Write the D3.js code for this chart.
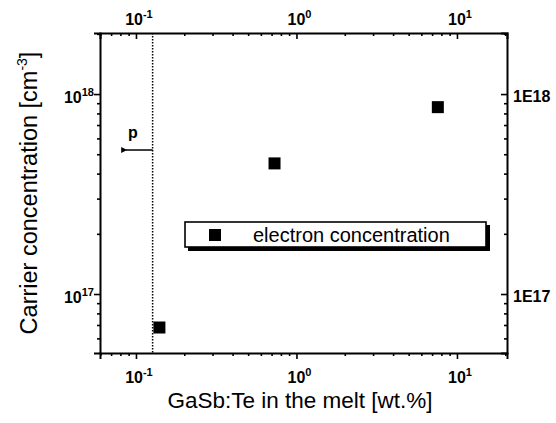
<!DOCTYPE html>
<html><head><meta charset="utf-8">
<script src="https://cdn.jsdelivr.net/npm/d3@7"></script>
<style>body{margin:0;background:#fff}svg{display:block}text{font-family:"Liberation Sans",Arial,sans-serif;fill:#000}</style>
</head><body>
<script>
const xValues = [0.14, 0.73, 7.6];
const yValues = [6.8e16, 4.5e17, 8.6e17];
const seriesName = "electron concentration";
const xTickExps = [-1, 0, 1];
const yTickExps = [17, 18];
const yRightLabels = ["1E17", "1E18"];
const boundaryX = 0.127;
const pArrow = {x0: 0.127, x1: 0.083, y: 5.25e17, label: "p"};

const W = 556, H = 423;
const m = {l: 100, r: 49, t: 33, b: 70};
const svg = d3.select("body").append("svg").attr("width", W).attr("height", H);
const x = d3.scaleLog().domain([0.0597, 20.5]).range([m.l, W - m.r]);
const y = d3.scaleLog().domain([5.07e16, 2.02e18]).range([H - m.b, m.t]);

const minorX = [], minorY = [];
for (let e = -2; e <= 1; e++) for (let k = 2; k <= 9; k++) { const v = k * 10 ** e; if (v >= x.domain()[0] && v <= x.domain()[1]) minorX.push(v); }
for (let e = 16; e <= 18; e++) for (let k = 2; k <= 9; k++) { const v = k * 10 ** e; if (v >= y.domain()[0] && v <= y.domain()[1]) minorY.push(v); }
const majX = xTickExps.map(e => 10 ** e), majY = yTickExps.map(e => 10 ** e);

const g = svg.append("g");
function axis(gen, ticks, size, transform) {
  const a = g.append("g").attr("transform", transform).call(gen.tickValues(ticks).tickSize(size).tickFormat(""));
  a.selectAll("path,line").attr("stroke", "#000").attr("stroke-width", 1.6);
  return a;
}
const bt = `translate(0,${H - m.b})`, tt = `translate(0,${m.t})`, lt = `translate(${m.l},0)`, rt = `translate(${W - m.r},0)`;
axis(d3.axisBottom(x), majX, 6, bt);
axis(d3.axisBottom(x), minorX, 3, bt).select(".domain").remove();
axis(d3.axisTop(x), majX, -6, tt);
axis(d3.axisTop(x), minorX, -3, tt).select(".domain").remove();
axis(d3.axisLeft(y), majY, 6, lt);
axis(d3.axisLeft(y), minorY, 3, lt).select(".domain").remove();
axis(d3.axisRight(y), majY, -6, rt);
axis(d3.axisRight(y), minorY, -3, rt).select(".domain").remove();
g.selectAll(".domain").attr("stroke-width", 2);

function powLabel(sel, base, exp, anchor) {
  const t = sel.append("text").attr("font-weight", "bold").attr("font-size", 16).attr("text-anchor", anchor);
  t.append("tspan").text(base);
  t.append("tspan").attr("font-size", 11).attr("dy", -7).text(exp);
  return t;
}
xTickExps.forEach(e => {
  powLabel(svg, "10", e, "middle").attr("x", x(10 ** e) + 3).attr("y", 383);
  powLabel(svg, "10", e, "middle").attr("x", x(10 ** e) + 3).attr("y", 25);
});
yTickExps.forEach((e, i) => {
  powLabel(svg, "10", e, "end").attr("x", 94).attr("y", y(10 ** e) + 9);
  svg.append("text").attr("font-weight", "bold").attr("font-size", 16).attr("x", 513).attr("y", y(10 ** e) + 8).text(yRightLabels[i]);
});

// axis titles
const yt = svg.append("text").attr("font-size", 23.5).attr("text-anchor", "middle")
  .attr("transform", `translate(37,${193}) rotate(-90)`);
yt.append("tspan").text("Carrier concentration [cm");
yt.append("tspan").attr("font-size", 14).attr("dy", -10).text("-3");
yt.append("tspan").attr("dy", 10).text("]");
svg.append("text").attr("font-size", 22.5).attr("text-anchor", "middle").attr("x", 300).attr("y", 408).text("GaSb:Te in the melt [wt.%]");

// dotted boundary
svg.append("line").attr("x1", x(boundaryX)).attr("x2", x(boundaryX)).attr("y1", m.t).attr("y2", H - m.b)
  .attr("stroke", "#000").attr("stroke-width", 1.5).attr("stroke-dasharray", "1.5,1.5");
// p arrow
svg.append("defs").append("marker").attr("id", "ah").attr("viewBox", "0 0 10 10").attr("refX", 2).attr("refY", 5)
  .attr("markerWidth", 6).attr("markerHeight", 4).attr("orient", "auto")
  .append("path").attr("d", "M10,0L0,5L10,10Z").attr("fill", "#000");
svg.append("line").attr("x1", x(pArrow.x0)).attr("x2", x(pArrow.x1) + 3).attr("y1", y(pArrow.y)).attr("y2", y(pArrow.y))
  .attr("stroke", "#000").attr("stroke-width", 1.5).attr("marker-end", "url(#ah)");
svg.append("text").attr("font-weight", "bold").attr("font-size", 16).attr("text-anchor", "middle")
  .attr("x", x(Math.sqrt(pArrow.x0 * pArrow.x1)) - 5).attr("y", y(pArrow.y) - 12).text(pArrow.label);

// points
const pts = xValues.map((v, i) => ({x: v, y: yValues[i]}));
svg.selectAll("rect.pt").data(pts).enter().append("rect").attr("class", "pt")
  .attr("x", d => x(d.x) - 6).attr("y", d => y(d.y) - 6).attr("width", 12).attr("height", 12).attr("fill", "#000");

// legend
const lg = svg.append("g");
lg.append("rect").attr("x", 188).attr("y", 225).attr("width", 302).attr("height", 26).attr("fill", "#000");
lg.append("rect").attr("x", 185).attr("y", 222).attr("width", 301).attr("height", 25).attr("fill", "#fff").attr("stroke", "#000").attr("stroke-width", 1.6);
lg.append("rect").attr("x", 209).attr("y", 229).attr("width", 12).attr("height", 12).attr("fill", "#000");
lg.append("text").attr("font-size", 20).attr("x", 253).attr("y", 242).text(seriesName);
</script>
</body></html>
